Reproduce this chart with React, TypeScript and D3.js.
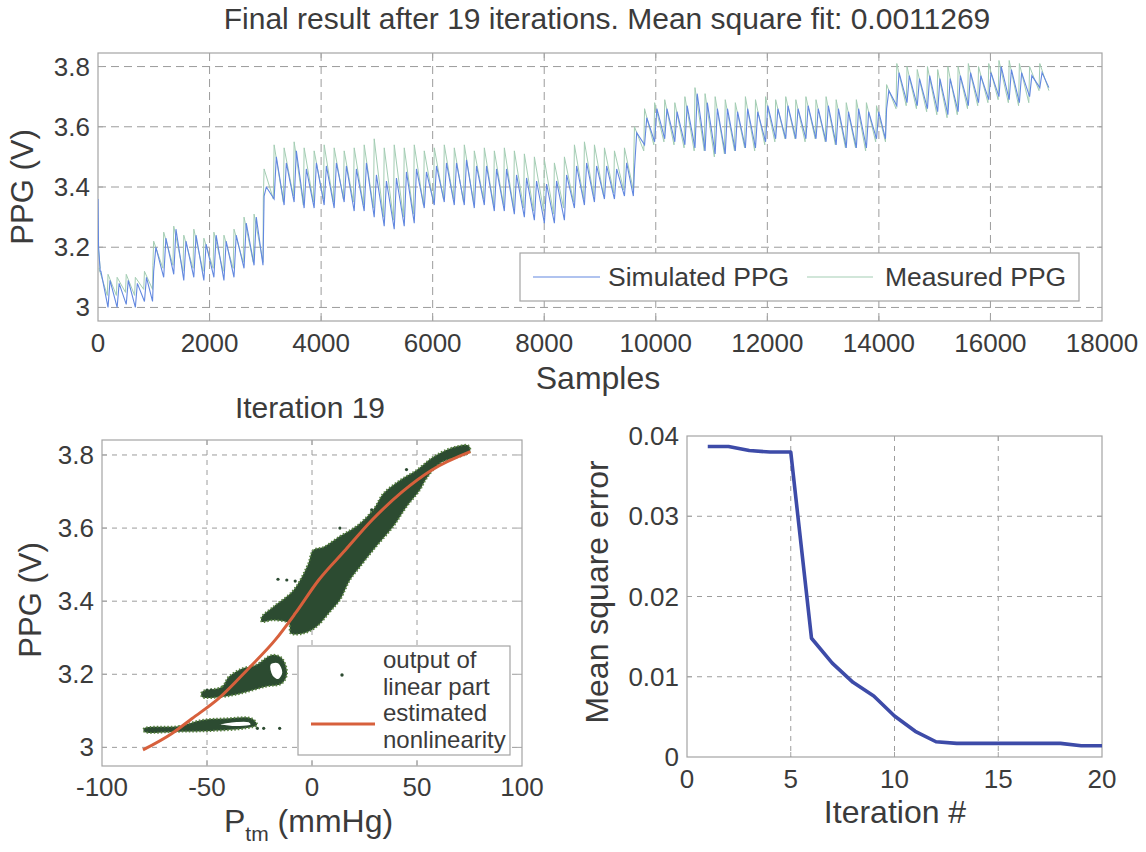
import React from 'react';
import * as d3 from 'd3';

const W = 1146;
const H = 852;
const FONT = '"Liberation Sans", Arial, Helvetica, sans-serif';
const TEXT = '#3b3b3b';
const AXIS = '#a4a4a4';
const GRID = '#9c9c9c';

// ---------- Top chart data ----------
const sampleTicks = [0, 2000, 4000, 6000, 8000, 10000, 12000, 14000, 16000, 18000];
const ppgTicks = [3, 3.2, 3.4, 3.6, 3.8];
const blockStart = [0, 980, 2960, 9600, 14120];
const blockEnd = [980, 2960, 9600, 14120, 17050];
const blockBeats = [6, 11, 37, 25, 16];

const measuredPeak = [
  3.13, 3.11, 3.10, 3.11, 3.10, 3.12,
  3.22, 3.25, 3.27, 3.24, 3.26, 3.23, 3.25, 3.24, 3.26, 3.30, 3.31,
  3.46, 3.54, 3.53, 3.55, 3.53, 3.52, 3.54, 3.53, 3.52, 3.53, 3.54, 3.56, 3.53, 3.54, 3.53, 3.54, 3.52, 3.53, 3.54, 3.53,
  3.54, 3.52, 3.53, 3.52, 3.53, 3.52, 3.51, 3.50, 3.49, 3.48, 3.50, 3.54, 3.55, 3.54, 3.53, 3.52, 3.53,
  3.60, 3.66, 3.68, 3.69, 3.68, 3.70, 3.73, 3.71, 3.70, 3.69, 3.68, 3.70, 3.69, 3.70, 3.69, 3.70, 3.69, 3.70, 3.69, 3.70,
  3.69, 3.68, 3.69, 3.68, 3.67,
  3.74, 3.81, 3.80, 3.79, 3.80, 3.79, 3.80, 3.80, 3.81, 3.80, 3.81, 3.82, 3.82, 3.81, 3.80, 3.81,
];
const measuredTrough = [
  3.05, 3.04, 3.04, 3.05, 3.04, 3.06,
  3.14, 3.13, 3.14, 3.12, 3.13, 3.12, 3.13, 3.12, 3.13, 3.15, 3.15,
  3.36, 3.36, 3.35, 3.37, 3.34, 3.35, 3.36, 3.35, 3.36, 3.35, 3.34, 3.33, 3.30, 3.29, 3.30, 3.31, 3.34, 3.35, 3.36, 3.36,
  3.35, 3.35, 3.36, 3.34, 3.34, 3.33, 3.33, 3.32, 3.32, 3.31, 3.33, 3.35, 3.36, 3.37, 3.37, 3.38, 3.39,
  3.48, 3.52, 3.54, 3.55, 3.54, 3.53, 3.52, 3.52, 3.50, 3.51, 3.52, 3.53, 3.52, 3.54, 3.55, 3.56, 3.56, 3.55, 3.56, 3.55,
  3.54, 3.53, 3.53, 3.52, 3.55,
  3.64, 3.66, 3.67, 3.66, 3.65, 3.64, 3.63, 3.64, 3.66, 3.67, 3.68, 3.69, 3.68, 3.67, 3.68, 3.72,
];
const simulatedPeak = [
  3.12, 3.09, 3.08, 3.09, 3.08, 3.10,
  3.20, 3.23, 3.26, 3.22, 3.24, 3.21, 3.24, 3.22, 3.24, 3.28, 3.30,
  3.40, 3.50, 3.48, 3.52, 3.46, 3.48, 3.47, 3.48, 3.47, 3.46, 3.48, 3.44, 3.42, 3.43, 3.45, 3.46, 3.45, 3.47, 3.48, 3.48,
  3.49, 3.47, 3.47, 3.46, 3.46, 3.44, 3.43, 3.42, 3.41, 3.42, 3.44, 3.47, 3.48, 3.47, 3.47, 3.46, 3.48,
  3.58, 3.63, 3.66, 3.66, 3.65, 3.67, 3.71, 3.68, 3.66, 3.66, 3.65, 3.66, 3.65, 3.67, 3.66, 3.67, 3.66, 3.67, 3.66, 3.67,
  3.66, 3.65, 3.66, 3.65, 3.65,
  3.72, 3.78, 3.77, 3.76, 3.77, 3.76, 3.76, 3.77, 3.78, 3.77, 3.78, 3.80, 3.79, 3.78, 3.77, 3.78,
];
const simulatedTrough = [
  3.02, 3.00, 3.00, 3.01, 3.00, 3.02,
  3.12, 3.10, 3.11, 3.09, 3.10, 3.09, 3.10, 3.09, 3.10, 3.13, 3.14,
  3.37, 3.36, 3.34, 3.35, 3.33, 3.33, 3.34, 3.33, 3.35, 3.32, 3.32, 3.30, 3.27, 3.26, 3.27, 3.28, 3.33, 3.34, 3.35, 3.34,
  3.34, 3.33, 3.34, 3.32, 3.32, 3.31, 3.30, 3.29, 3.28, 3.28, 3.29, 3.33, 3.34, 3.35, 3.36, 3.36, 3.37,
  3.46, 3.54, 3.55, 3.56, 3.55, 3.54, 3.53, 3.52, 3.51, 3.51, 3.52, 3.53, 3.53, 3.55, 3.56, 3.56, 3.56, 3.56, 3.56, 3.55,
  3.54, 3.53, 3.53, 3.53, 3.56,
  3.66, 3.67, 3.68, 3.67, 3.66, 3.65, 3.64, 3.65, 3.67, 3.68, 3.69, 3.70, 3.69, 3.68, 3.70, 3.73,
];
const simulatedOnsetSample = [0, 10, 40];
const simulatedOnsetValue = [3.36, 3.2, 3.12];
const measuredOnsetSample = [0, 40];
const measuredOnsetValue = [3.21, 3.13];

// ---------- Bottom-left chart data ----------
const ptmTicks = [-100, -50, 0, 50, 100];
const nonlinPtm = [-80.5, -66.7, -57.1, -44.4, -30.2, -17.5, -7.9, 3.2, 15.9, 28.6, 42.9, 57.1, 75.4];
const nonlinPpg = [2.993, 3.038, 3.079, 3.134, 3.216, 3.294, 3.367, 3.458, 3.54, 3.622, 3.699, 3.759, 3.809];

const clusterHigh: [number, number][] = [
  [-24, 3.357], [-18.4, 3.385], [-8.9, 3.43], [-2, 3.5], [0.6, 3.54], [5.4, 3.548], [13.3, 3.578], [21.3, 3.606],
  [29.2, 3.651], [34, 3.695], [41.9, 3.731], [49.8, 3.759], [57.8, 3.795], [65.7, 3.818], [74.5, 3.826],
  [75.2, 3.809], [61, 3.777], [54.6, 3.736], [51.4, 3.704], [45, 3.658], [38.7, 3.604], [29.2, 3.54],
  [22.9, 3.494], [18.1, 3.458], [13.3, 3.403], [8.6, 3.371], [2.2, 3.33], [-3.8, 3.312], [-10.2, 3.312],
  [-11, 3.339], [-18.4, 3.348], [-24, 3.344],
];
const clusterMid: [number, number][] = [
  [-52.4, 3.152], [-42.9, 3.166], [-39.7, 3.193], [-33.3, 3.216], [-27, 3.225], [-19, 3.253], [-14.3, 3.244],
  [-11.9, 3.202], [-14.3, 3.175], [-22.2, 3.166], [-33.3, 3.148], [-42.9, 3.138], [-52.4, 3.138],
];
const clusterMidHole: [number, number][] = [
  [-20, 3.228], [-16, 3.232], [-13.8, 3.205], [-16, 3.185], [-19, 3.195],
];
const clusterLow: [number, number][] = [
  [-80, 3.052], [-63.5, 3.058], [-52.4, 3.075], [-41.3, 3.079], [-28.6, 3.079], [-26.2, 3.061],
  [-31.7, 3.052], [-47.6, 3.045], [-63.5, 3.043], [-80, 3.043],
];
const clusterLowHole: [number, number][] = [
  [-44, 3.063], [-36, 3.071], [-30, 3.07], [-29, 3.062], [-38, 3.057],
];
const strayPtm = [-26, -23, -15.4, -4.3, -16.2, -12, -8, 45, 28.4, 13.3, -48, -50];
const strayPpg = [3.052, 3.052, 3.052, 3.052, 3.46, 3.458, 3.455, 3.76, 3.65, 3.6, 3.157, 3.157];

// ---------- Bottom-right chart data ----------
const iterations = [1, 2, 3, 4, 5, 6, 7, 8, 9, 10, 11, 12, 13, 14, 15, 16, 17, 18, 19, 20];
const mse = [0.0387, 0.0387, 0.0382, 0.038, 0.038, 0.0148, 0.0117, 0.0093, 0.0076, 0.0051, 0.0032, 0.0019,
  0.0017, 0.0017, 0.0017, 0.0017, 0.0017, 0.0017, 0.0014, 0.0014];
const iterTicks = [0, 5, 10, 15, 20];
const mseTicks = [0, 0.01, 0.02, 0.03, 0.04];

type Scale = d3.ScaleLinear<number, number>;

function Frame({ x, y, xTicks, yTicks, dash, xFmt, yFmt, tickOff }: {
  x: Scale; y: Scale; xTicks: number[]; yTicks: number[]; dash: string;
  xFmt: (v: number) => string; yFmt: (v: number) => string; tickOff: number;
}) {
  const [x0, x1] = x.range();
  const [y0, y1] = y.range();
  const tl = 5;
  return (
    <g>
      {xTicks.map((t) => {
        const px = x(t);
        const edge = Math.abs(px - x0) < 1 || Math.abs(px - x1) < 1;
        return (
          <g key={'x' + t}>
            {!edge && <line x1={px} x2={px} y1={y1} y2={y0} stroke={GRID} strokeWidth={1} strokeDasharray={dash} />}
            {!edge && <line x1={px} x2={px} y1={y0} y2={y0 - tl} stroke={AXIS} />}
            {!edge && <line x1={px} x2={px} y1={y1} y2={y1 + tl} stroke={AXIS} />}
            <text x={px} y={y0 + tickOff} textAnchor="middle" dominantBaseline="central" fontSize={26} fill={TEXT}>{xFmt(t)}</text>
          </g>
        );
      })}
      {yTicks.map((t) => {
        const py = y(t);
        const edge = Math.abs(py - y0) < 1 || Math.abs(py - y1) < 1;
        return (
          <g key={'y' + t}>
            {!edge && <line x1={x0} x2={x1} y1={py} y2={py} stroke={GRID} strokeWidth={1} strokeDasharray={dash} />}
            {!edge && <line x1={x0} x2={x0 + tl} y1={py} y2={py} stroke={AXIS} />}
            {!edge && <line x1={x1} x2={x1 - tl} y1={py} y2={py} stroke={AXIS} />}
            <text x={x0 - 8} y={py} textAnchor="end" dominantBaseline="central" fontSize={26} fill={TEXT}>{yFmt(t)}</text>
          </g>
        );
      })}
      <rect x={x0} y={y1} width={x1 - x0} height={y0 - y1} fill="none" stroke={AXIS} strokeWidth={1.2} />
    </g>
  );
}

function buildSignal(peaks: number[], troughs: number[], riseAt: number, peakAt: number,
  onsetS: number[], onsetV: number[]): [number, number][] {
  const pts: [number, number][] = onsetS.map((s, i) => [s, onsetV[i]]);
  let k = 0;
  blockBeats.forEach((n, b) => {
    const period = (blockEnd[b] - blockStart[b]) / n;
    for (let i = 0; i < n; i++, k++) {
      const t0 = blockStart[b] + i * period;
      if (b === 0 && i === 0) {
        pts.push([t0 + peakAt * period, peaks[k]]);
      } else {
        pts.push([t0 + riseAt * period, troughs[k]]);
        pts.push([t0 + peakAt * period, peaks[k]]);
      }
    }
    const last = k - 1;
    pts.push([blockEnd[b] - 2, troughs[last]]);
  });
  return pts;
}

export default function App() {
  const tx = d3.scaleLinear().domain([0, 18000]).range([98, 1102]);
  const ty = d3.scaleLinear().domain([2.955, 3.845]).range([321, 53]);
  const line = d3.line<[number, number]>().x((d) => tx(d[0])).y((d) => ty(d[1]));
  const measured = buildSignal(measuredPeak, measuredTrough, 0.02, 0.1, measuredOnsetSample, measuredOnsetValue);
  const simulated = buildSignal(simulatedPeak, simulatedTrough, 0.1, 0.32, simulatedOnsetSample, simulatedOnsetValue);

  const bx = d3.scaleLinear().domain([-100, 100]).range([102, 522]);
  const by = d3.scaleLinear().domain([2.949, 3.841]).range([766, 440]);
  const poly = d3.line<[number, number]>().x((d) => bx(d[0])).y((d) => by(d[1])).curve(d3.curveCatmullRomClosed);
  const nonlin = d3.line<number>().x((d) => bx(d)).y((_, i) => by(nonlinPpg[i])).curve(d3.curveMonotoneX);

  const rx = d3.scaleLinear().domain([0, 20]).range([687, 1102]);
  const ry = d3.scaleLinear().domain([0, 0.04]).range([757, 436]);
  const mseLine = d3.line<number>().x((d) => rx(d)).y((_, i) => ry(mse[i]));

  const green = '#2c4b31';
  const greenEdge = '#56803f';

  return (
    <svg width={W} height={H} style={{ position: 'absolute', left: 0, top: 0, background: '#fff' }}
      fontFamily={FONT}>
      <rect x={0} y={0} width={W} height={H} fill="#fff" />
      {/* Top chart */}
      <text x={607} y={29} textAnchor="middle" fontSize={30} fill={TEXT}>
        Final result after 19 iterations. Mean square fit: 0.0011269
      </text>
      <Frame x={tx} y={ty} xTicks={sampleTicks} yTicks={ppgTicks} dash="8,5" tickOff={22}
        xFmt={(v) => String(v)} yFmt={(v) => String(v)} />
      <defs>
        <clipPath id="topClip"><rect x={98} y={53} width={1004} height={268} /></clipPath>
      </defs>
      <g clipPath="url(#topClip)">
        <path d={line(measured) || ''} fill="none" stroke="#a3cdb3" strokeWidth={1} />
        <path d={line(simulated) || ''} fill="none" stroke="#6288e0" strokeWidth={1.1} />
      </g>
      {/* Top legend */}
      <rect x={520} y={253} width={559} height={48} fill="#fff" stroke={AXIS} strokeWidth={1.2} />
      <line x1={533} x2={600} y1={277} y2={277} stroke="#6288e0" strokeWidth={1.2} />
      <text x={608} y={286} fontSize={26.5} fill={TEXT}>Simulated PPG</text>
      <line x1={807} x2={873} y1={277} y2={277} stroke="#a3cdb3" strokeWidth={1.2} />
      <text x={885} y={286} fontSize={26.5} fill={TEXT}>Measured PPG</text>
      <text x={598} y={389} textAnchor="middle" fontSize={32} fill={TEXT}>Samples</text>
      <text transform="translate(33,187) rotate(-90)" textAnchor="middle" fontSize={31} fill={TEXT}>PPG (V)</text>

      {/* Bottom-left chart */}
      <text x={310} y={418} textAnchor="middle" fontSize={30} fill={TEXT}>Iteration 19</text>
      <Frame x={bx} y={by} xTicks={ptmTicks} yTicks={ppgTicks} dash="5,5" tickOff={21}
        xFmt={(v) => String(v)} yFmt={(v) => String(v)} />
      <g>
        <path d={poly(clusterHigh) || ''} fill={green} stroke={greenEdge} strokeWidth={2} strokeDasharray="1.5,2" />
        <path d={poly(clusterMid) || ''} fill={green} stroke={greenEdge} strokeWidth={2} strokeDasharray="1.5,2" />
        <path d={poly(clusterMidHole) || ''} fill="#fff" stroke={green} strokeWidth={1.5} />
        <path d={poly(clusterLow) || ''} fill={green} stroke={greenEdge} strokeWidth={2} strokeDasharray="1.5,2" />
        <path d={poly(clusterLowHole) || ''} fill="#fff" stroke={green} strokeWidth={1.2} />
        {strayPtm.map((p, i) => (
          <circle key={i} cx={bx(p)} cy={by(strayPpg[i])} r={1.6} fill={green} />
        ))}
        <path d={nonlin(nonlinPtm) || ''} fill="none" stroke="#d7603c" strokeWidth={3} />
      </g>
      {/* Bottom-left legend */}
      <rect x={298} y={646} width={212} height={109} fill="#fff" stroke={AXIS} strokeWidth={1.2} />
      <circle cx={342} cy={675} r={1.7} fill={green} />
      <line x1={311} x2={375} y1={724} y2={724} stroke="#d7603c" strokeWidth={3} />
      <text x={383} y={668} fontSize={24} fill={TEXT}>output of</text>
      <text x={383} y={695} fontSize={24} fill={TEXT}>linear part</text>
      <text x={383} y={721} fontSize={24} fill={TEXT}>estimated</text>
      <text x={383} y={748} fontSize={24} fill={TEXT}>nonlinearity</text>
      <text x={224} y={832} fontSize={32} fill={TEXT}>
        P<tspan fontSize={21} dy={9}>tm</tspan><tspan dy={-9}> (mmHg)</tspan>
      </text>
      <text transform="translate(41,600) rotate(-90)" textAnchor="middle" fontSize={31} fill={TEXT}>PPG (V)</text>

      {/* Bottom-right chart */}
      <Frame x={rx} y={ry} xTicks={iterTicks} yTicks={mseTicks} dash="5,5" tickOff={22}
        xFmt={(v) => String(v)} yFmt={(v) => String(v)} />
      <path d={mseLine(iterations) || ''} fill="none" stroke="#3d4ba8" strokeWidth={3.6} strokeLinejoin="round" />
      <text x={895} y={823} textAnchor="middle" fontSize={32} fill={TEXT}>Iteration #</text>
      <text transform="translate(608,592) rotate(-90)" textAnchor="middle" fontSize={32} fill={TEXT}>Mean square error</text>
    </svg>
  );
}
